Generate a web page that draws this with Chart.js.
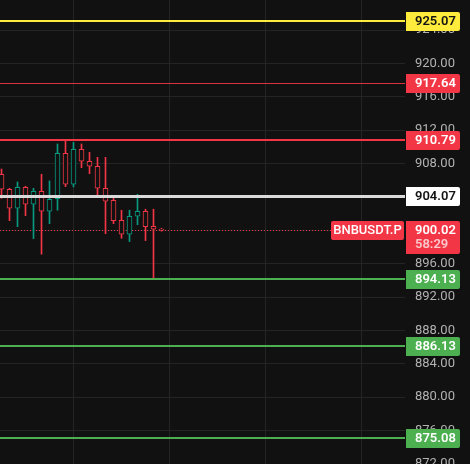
<!DOCTYPE html>
<html><head><meta charset="utf-8">
<script src="https://cdn.jsdelivr.net/npm/chart.js@4"></script>
<style>html,body{margin:0;padding:0;background:#111111;overflow:hidden}canvas{display:block}</style>
</head><body>
<canvas id="c" width="470" height="464"></canvas>
<script>
// ---- data ----
const candleIndex = [0,1,2,3,4,5,6,7,8,9,10,11,12,13,14,15,16,17,18,19,20];
const opens  = [906.72,904.92,902.65,905.16,903.13,904.68,902.29,903.80,909.23,905.52,909.71,908.28,907.68,905.04,903.60,901.21,899.53,901.69,902.29,900.49,900.13];
const highs  = [907.35,905.04,905.80,905.20,905.04,906.72,905.92,910.35,910.71,910.55,910.35,909.35,908.75,908.75,904.08,902.41,902.41,904.32,902.53,902.53,900.25];
const lows   = [903.84,901.16,900.44,901.76,899.01,897.14,900.80,902.41,905.23,905.20,907.51,906.79,904.16,899.60,900.80,899.05,898.65,900.68,898.77,894.14,899.90];
const closes = [904.92,902.65,905.16,903.13,904.68,902.29,903.72,909.23,905.52,909.71,908.28,907.68,905.04,903.49,901.16,899.53,901.69,902.29,900.44,900.13,900.02];
const levelValues = [925.07, 917.64, 910.79, 904.07, 894.13, 886.13, 875.08];
const levelKinds  = ['yellow','redThin','red','white','green','green','green'];
const lastPrice = 900.02;
const countdownText = '58:29';
const symbolText = 'BNBUSDT.P';
const timeGridCandles = [9, 21, 33, 45];
const yTickStep = 4;
const yFirstTick = 872;
const yLastTick = 928;

// ---- styles ----
const BG = '#111111';
const GRID = '#242424';
const UP = '#089981';
const DOWN = '#f23645';
const kindStyle = {
  yellow: {line:'#ffeb3b', width:2, box:'#ffeb3b', text:'#131313'},
  redThin:{line:'#d8323f', width:1, box:'#f23645', text:'#ffffff'},
  red:    {line:'#f23645', width:2, box:'#f23645', text:'#ffffff'},
  white:  {line:'#d9d9d9', width:3, box:'#ffffff', text:'#131313'},
  green:  {line:'#4caf50', width:2, box:'#4caf50', text:'#ffffff'}
};
const FONT = 'Roboto, "Liberation Sans", sans-serif';

const colors = candleIndex.map(i => closes[i] >= opens[i] ? UP : DOWN);
const bodyData = candleIndex.map(i => ({x:i, y:[opens[i], closes[i]]}));
const upperWick = candleIndex.map(i => ({x:i, y:[Math.max(opens[i],closes[i]), highs[i]]}));
const lowerWick = candleIndex.map(i => ({x:i, y:[lows[i], Math.min(opens[i],closes[i])]}));

function box(ctx, x, y, w, h, fill){
  ctx.fillStyle = fill;
  ctx.beginPath();
  if (ctx.roundRect) ctx.roundRect(x, y, w, h, [0,2,2,0]); else ctx.rect(x,y,w,h);
  ctx.fill();
}

const overlay = {
  id: 'overlay',
  beforeDraw(chart){
    const ctx = chart.ctx;
    ctx.save(); ctx.fillStyle = BG; ctx.fillRect(0,0,chart.width,chart.height); ctx.restore();
  },
  beforeDatasetsDraw(chart){
    const {ctx, chartArea:a, scales:{y}} = chart;
    ctx.save();
    const py = Math.round(y.getPixelForValue(lastPrice)) + 0.5;
    ctx.strokeStyle = DOWN; ctx.lineWidth = 1; ctx.setLineDash([1,2]);
    ctx.beginPath(); ctx.moveTo(a.left, py); ctx.lineTo(a.right, py); ctx.stroke();
    ctx.restore();
  },
  afterDatasetsDraw(chart){
    const {ctx, chartArea:a, scales:{y}} = chart;
    ctx.save();
    levelValues.forEach((v, k) => {
      const s = kindStyle[levelKinds[k]];
      let py = y.getPixelForValue(v);
      py = (s.width % 2 === 1) ? Math.round(py - 0.5) + 0.5 : Math.round(py);
      ctx.strokeStyle = s.line; ctx.lineWidth = s.width;
      ctx.beginPath(); ctx.moveTo(0, py); ctx.lineTo(a.right, py); ctx.stroke();
    });
    ctx.restore();
  },
  afterDraw(chart){
    const {ctx, chartArea:a, scales:{y}} = chart;
    ctx.save();
    const bx = a.right + 1, bw = 54, bh = 19;
    ctx.textBaseline = 'middle'; ctx.textAlign = 'left';
    levelValues.forEach((v, k) => {
      const s = kindStyle[levelKinds[k]];
      const py = y.getPixelForValue(v);
      box(ctx, bx, Math.round(py - bh/2), bw, bh, s.box);
      ctx.fillStyle = s.text; ctx.font = '600 13px ' + FONT;
      ctx.fillText(v.toFixed(2), bx + 9, py + 0.5);
    });
    // last price box
    const lp = y.getPixelForValue(lastPrice);
    const top = Math.round(lp - 9.5);
    box(ctx, bx, top, bw, 33, DOWN);
    ctx.fillStyle = '#ffffff'; ctx.font = '600 13px ' + FONT;
    ctx.fillText(lastPrice.toFixed(2), bx + 9, lp + 1);
    ctx.fillStyle = 'rgba(255,255,255,0.72)';
    ctx.fillText(countdownText, bx + 9, lp + 15);
    // symbol box
    ctx.fillStyle = DOWN;
    ctx.beginPath();
    if (ctx.roundRect) ctx.roundRect(a.right - 74, top, 73, 19, 2); else ctx.rect(a.right - 74, top, 73, 19);
    ctx.fill();
    ctx.fillStyle = '#ffffff'; ctx.font = '500 13px ' + FONT; ctx.textAlign = 'center';
    ctx.fillText(symbolText, a.right - 37.5, top + 10);
    ctx.restore();
  }
};

const barCommon = {grouped:false, borderSkipped:false, minBarLength:1};

new Chart(document.getElementById('c'), {
  type: 'bar',
  data: {
    datasets: [
      Object.assign({label:'upper', data: upperWick, backgroundColor: colors, borderWidth:0, barThickness:1, order:2}, barCommon),
      Object.assign({label:'lower', data: lowerWick, backgroundColor: colors, borderWidth:0, barThickness:1, order:2}, barCommon),
      Object.assign({label:'body', data: bodyData, backgroundColor: BG, borderColor: colors, borderWidth:1, barThickness:5, order:1}, barCommon)
    ]
  },
  options: {
    responsive: false,
    devicePixelRatio: 1,
    animation: false,
    events: [],
    layout: {padding: 0},
    plugins: {legend:{display:false}, tooltip:{enabled:false}},
    scales: {
      x: {
        type: 'linear',
        offset: false,
        min: -0.1875,
        max: -0.1875 + 405/8,
        grid: {color: GRID, drawTicks:false, lineWidth:1, offset:false},
        border: {display:false},
        ticks: {display:false},
        afterBuildTicks: s => { s.ticks = timeGridCandles.map(v => ({value:v})); },
        afterFit: s => { s.height = 0; s.paddingLeft = 0; s.paddingRight = 0; }
      },
      y: {
        position: 'right',
        min: 872,
        max: 927.6,
        grid: {color: GRID, drawTicks:false, lineWidth:1},
        border: {display:false},
        ticks: {
          stepSize: yTickStep,
          padding: 10,
          color: '#b2b2b2',
          font: {family: FONT, size: 13},
          callback: v => Number(v).toFixed(2),
          autoSkip: false
        },
        afterBuildTicks: s => {
          const t = [];
          for (let v = yFirstTick; v <= yLastTick; v += yTickStep) t.push({value:v});
          s.ticks = t;
        },
        afterFit: s => { s.width = 65; s.paddingTop = 0; s.paddingBottom = 0; }
      }
    }
  },
  plugins: [overlay]
});
</script>
</body></html>
